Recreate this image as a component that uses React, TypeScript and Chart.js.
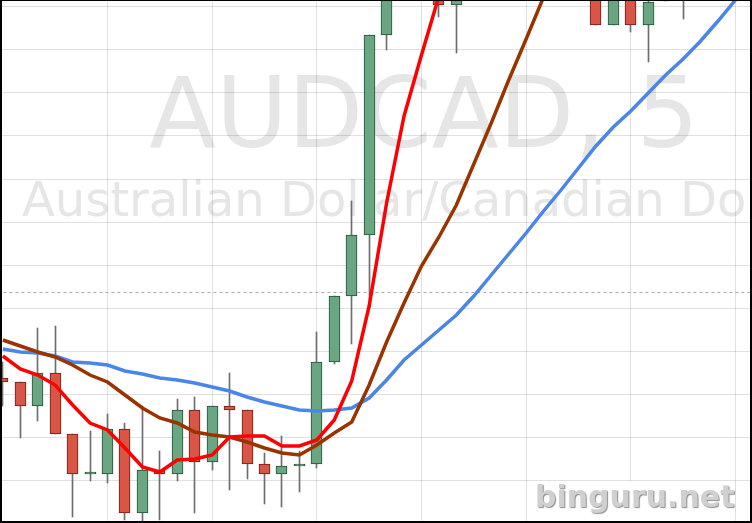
import React, { useEffect, useRef } from "react";
import { Chart, registerables } from "chart.js";

Chart.register(...registerables);

// 5-minute candles, AUDCAD
const times = [
  "09:00", "09:05", "09:10", "09:15", "09:20", "09:25", "09:30", "09:35", "09:40", "09:45",
  "09:50", "09:55", "10:00", "10:05", "10:10", "10:15", "10:20", "10:25", "10:30", "10:35",
  "10:40", "10:45", "10:50", "10:55", "11:00", "11:05", "11:10", "11:15", "11:20", "11:25",
  "11:30", "11:35", "11:40", "11:45", "11:50", "11:55", "12:00", "12:05", "12:10", "12:15",
  "12:20", "12:25", "12:30",
];

const opens = [
  0.95102, 0.95098, 0.95074, 0.95107, 0.95046, 0.95006, 0.95006, 0.95051, 0.94967, 0.9501,
  0.95006, 0.9507, 0.95018, 0.95074, 0.9507, 0.95016, 0.95006, 0.95014, 0.95016, 0.95118,
  0.95184, 0.95245, 0.95445, 0.9551, 0.95575, 0.9555, 0.95475, 0.9554, 0.95585, 0.9561,
  0.9559, 0.9563, 0.95595, 0.95555, 0.9557, 0.95455, 0.9552, 0.95455, 0.95479, 0.95525,
  0.955, 0.95545, 0.9553,
];
const highs = [
  0.95118, 0.95098, 0.95152, 0.95154, 0.95046, 0.95049, 0.95066, 0.95057, 0.95074, 0.95029,
  0.95081, 0.95083, 0.95074, 0.95107, 0.9507, 0.95027, 0.95044, 0.95029, 0.95148, 0.95184,
  0.95279, 0.95445, 0.95525, 0.9559, 0.9561, 0.95565, 0.95555, 0.956, 0.9563, 0.9564,
  0.9565, 0.95655, 0.9562, 0.9559, 0.9558, 0.9553, 0.95535, 0.955, 0.9554, 0.9555,
  0.9556, 0.9557, 0.9558,
];
const lows = [
  0.95074, 0.95042, 0.95059, 0.95046, 0.94963, 0.94999, 0.94997, 0.9496, 0.94954, 0.9496,
  0.94999, 0.94967, 0.9501, 0.9499, 0.95001, 0.94976, 0.94973, 0.94988, 0.95012, 0.95116,
  0.95136, 0.95172, 0.9543, 0.95495, 0.9554, 0.95463, 0.95427, 0.9552, 0.95565, 0.95575,
  0.9558, 0.9558, 0.9554, 0.955, 0.95455, 0.95455, 0.95448, 0.95418, 0.95479, 0.95461,
  0.95485, 0.9551, 0.955,
];
const closes = [
  0.95098, 0.95074, 0.95107, 0.95046, 0.95006, 0.95006, 0.95051, 0.94967, 0.9501, 0.95006,
  0.9507, 0.95018, 0.95074, 0.9507, 0.95016, 0.95006, 0.95014, 0.95016, 0.95118, 0.95184,
  0.95245, 0.95445, 0.9551, 0.95575, 0.9555, 0.95475, 0.9554, 0.95585, 0.9561, 0.9559,
  0.9563, 0.95595, 0.95555, 0.9557, 0.95455, 0.9552, 0.95455, 0.95478, 0.95525, 0.955,
  0.95545, 0.9553, 0.95565,
];

// moving averages
const maFast = [
  0.95124, 0.95111, 0.95105, 0.95095, 0.95075, 0.95057, 0.9505, 0.95032, 0.95013, 0.95008,
  0.9502, 0.95021, 0.95025, 0.95043, 0.95044, 0.95044, 0.95034, 0.95034, 0.9504, 0.9506,
  0.95099, 0.95174, 0.95277, 0.95364, 0.95425, 0.95484, 0.95525, 0.9556, 0.9559, 0.95605,
  0.95615, 0.9561, 0.95595, 0.9558, 0.95565, 0.9555, 0.95545, 0.95535, 0.9553, 0.95528,
  0.9553, 0.95535, 0.9554,
];
const maMid = [
  0.9514, 0.95134, 0.95128, 0.95123, 0.95115, 0.95105, 0.95098, 0.95085, 0.95072, 0.95062,
  0.95057, 0.95048, 0.95045, 0.95043, 0.95038, 0.95032, 0.95027, 0.95025, 0.95035, 0.95047,
  0.95058, 0.95095, 0.95138, 0.95177, 0.95214, 0.95243, 0.95275, 0.95316, 0.95357, 0.954,
  0.95441, 0.95483, 0.9552, 0.95555, 0.95585, 0.9561, 0.9563, 0.95645, 0.95655, 0.95662,
  0.95668, 0.95672, 0.95675,
];
const maSlow = [
  0.95131, 0.95128, 0.95127, 0.95124, 0.95118, 0.95117, 0.95115, 0.95109, 0.95106, 0.95102,
  0.951, 0.95097, 0.95093, 0.95089, 0.95083, 0.95078, 0.95074, 0.9507, 0.95069, 0.9507,
  0.95072, 0.95082, 0.951, 0.9512, 0.95135, 0.9515, 0.95165, 0.95184, 0.95205, 0.95226,
  0.95247, 0.95269, 0.9529, 0.95312, 0.95334, 0.95353, 0.95369, 0.95387, 0.95405, 0.95421,
  0.95439, 0.95459, 0.9548,
];

const priceLevel = 0.951875;

// axis grid positions
const gridPrices = [
  0.954738, 0.954308, 0.953878, 0.953448, 0.953008, 0.952578, 0.952148, 0.951718,
  0.951288, 0.950858, 0.950428, 0.949998,
];
const gridCandles = [6, 12, 18, 24, 30, 36, 42];

const X_MIN = -0.16258;
const X_MAX = 42.9468;
const Y_MIN = 0.94957;
const Y_MAX = 0.9548;

const UP_FILL = "#6ba683";
const UP_EDGE = "#1f5133";
const DOWN_FILL = "#d95646";
const DOWN_EDGE = "#6b1c15";

const watermark = {
  id: "watermark",
  beforeDraw(chart: any) {
    const ctx = chart.ctx;
    ctx.save();
    ctx.fillStyle = "#e6e6e6";
    ctx.textBaseline = "alphabetic";
    ctx.textAlign = "left";
    ctx.font = '98px "DejaVu Sans"';
    ctx.fillText("AUDCAD, 5", 149, 147);
    ctx.font = '48px "DejaVu Sans"';
    ctx.fillText("Australian Dollar/Canadian Dollar", 22, 216);
    ctx.restore();
  },
  beforeDatasetsDraw(chart: any) {
    chart.data.datasets.forEach((ds: any, i: number) => {
      if (ds.type !== "bar") return;
      const meta = chart.getDatasetMeta(i);
      meta.data.forEach((el: any) => {
        el.x = Math.floor(el.x) + 0.5;
      });
    });
  },
  afterDraw(chart: any) {
    const ctx = chart.ctx;
    ctx.save();
    ctx.fillStyle = "#ffffff";
    ctx.fillRect(535, 481, 200, 40);
    ctx.font = 'bold 30px "DejaVu Sans"';
    ctx.textAlign = "left";
    ctx.textBaseline = "alphabetic";
    ctx.shadowColor = "rgba(0,0,0,0.45)";
    ctx.shadowOffsetX = 1;
    ctx.shadowOffsetY = 1;
    ctx.shadowBlur = 1;
    ctx.fillStyle = "#d0d0d0";
    ctx.fillText("binguru.net", 535, 507);
    ctx.restore();
    ctx.save();
    ctx.fillStyle = "#000000";
    ctx.fillRect(0, 0, 752, 1);
    ctx.fillRect(0, 0, 2, 523);
    ctx.fillRect(750, 0, 2, 523);
    ctx.fillRect(0, 521, 752, 2);
    ctx.restore();
  },
};

export default function App() {
  const ref = useRef<HTMLCanvasElement | null>(null);

  useEffect(() => {
    document.body.style.margin = "0";
    const idx = times.map((_, i) => i);
    const chart = new Chart(ref.current as HTMLCanvasElement, {
      type: "bar",
      data: {
        labels: times,
        datasets: [
          {
            type: "line",
            label: "MA fast",
            data: idx.map((i) => ({ x: i, y: maFast[i] })),
            borderColor: "#ff0000",
            borderWidth: 3.5,
            pointRadius: 0,
            tension: 0,
            fill: false,
            order: 1,
          } as any,
          {
            type: "line",
            label: "MA mid",
            data: idx.map((i) => ({ x: i, y: maMid[i] })),
            borderColor: "#993300",
            borderWidth: 3.5,
            pointRadius: 0,
            tension: 0,
            fill: false,
            order: 2,
          } as any,
          {
            type: "line",
            label: "MA slow",
            data: idx.map((i) => ({ x: i, y: maSlow[i] })),
            borderColor: "#4a86e8",
            borderWidth: 3.5,
            pointRadius: 0,
            tension: 0,
            fill: false,
            order: 3,
          } as any,
          {
            type: "bar",
            label: "body",
            data: idx.map((i) => ({ x: i, y: [opens[i], closes[i]] })),
            backgroundColor: idx.map((i) => (closes[i] >= opens[i] ? UP_FILL : DOWN_FILL)),
            borderColor: idx.map((i) => (closes[i] >= opens[i] ? UP_EDGE : DOWN_EDGE)),
            borderWidth: 1,
            borderSkipped: false,
            barThickness: 11,
            minBarLength: 2,
            grouped: false,
            order: 4,
          } as any,
          {
            type: "bar",
            label: "wick",
            data: idx.map((i) => ({ x: i, y: [lows[i], highs[i]] })),
            backgroundColor: "#6e6e6e",
            borderWidth: 0,
            barThickness: 1,
            grouped: false,
            order: 5,
          } as any,
          {
            type: "line",
            label: "price",
            data: [
              { x: -1, y: priceLevel },
              { x: 44, y: priceLevel },
            ],
            borderColor: "#a8a8a8",
            borderWidth: 1,
            borderDash: [3, 3],
            pointRadius: 0,
            fill: false,
            order: 6,
          } as any,
        ],
      },
      options: {
        responsive: false,
        animation: false,
        events: [],
        layout: { padding: 0 },
        plugins: { legend: { display: false }, tooltip: { enabled: false } },
        scales: {
          x: {
            type: "linear",
            min: X_MIN,
            max: X_MAX,
            offset: false,
            afterBuildTicks: (s: any) => {
              s.ticks = gridCandles.map((v) => ({ value: v }));
            },
            ticks: { display: false },
            grid: { color: "rgba(0,0,0,0.12)", lineWidth: 1, drawTicks: false, offset: false },
            border: { display: false },
          },
          y: {
            type: "linear",
            min: Y_MIN,
            max: Y_MAX,
            afterBuildTicks: (s: any) => {
              s.ticks = gridPrices.map((v) => ({ value: v }));
            },
            ticks: { display: false },
            grid: { color: "rgba(0,0,0,0.12)", lineWidth: 1, drawTicks: false },
            border: { display: false },
          },
        },
      } as any,
      plugins: [watermark],
    });
    return () => chart.destroy();
  }, []);

  return (
    <div style={{ position: "absolute", left: 0, top: 0, width: 752, height: 523 }}>
      <canvas ref={ref} width={752} height={523} style={{ display: "block", width: 752, height: 523 }} />
    </div>
  );
}
